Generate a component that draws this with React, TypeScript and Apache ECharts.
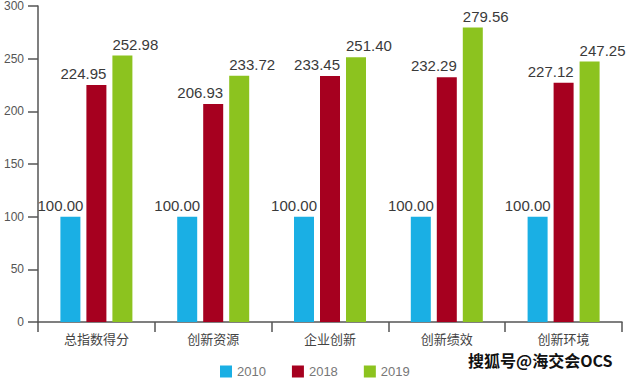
import React, { useEffect, useRef } from "react";
import * as echarts from "echarts";

const categories = ["总指数得分", "创新资源", "企业创新", "创新绩效", "创新环境"];
const s2010 = [100.0, 100.0, 100.0, 100.0, 100.0];
const s2018 = [224.95, 206.93, 233.45, 232.29, 227.12];
const s2019 = [252.98, 233.72, 251.4, 279.56, 247.25];
const seriesNames = ["2010", "2018", "2019"];
const colors = ["#1aafe4", "#a6001f", "#8cc31f"];

export default function App() {
  const ref = useRef<HTMLDivElement>(null);
  useEffect(() => {
    const chart = echarts.init(ref.current!, null, { renderer: "svg" });
    const baseLabel = {
      show: true,
      position: "top",
      distance: 4,
      color: "#3a3a3a",
      fontSize: 15,
      fontFamily: "Liberation Sans, Arial, sans-serif",
      formatter: (p: any) => Number(p.value).toFixed(2),
    };
    const labels = [
      { ...baseLabel, align: "right", offset: [13, 0] },
      { ...baseLabel, align: "right", offset: [10, 0] },
      { ...baseLabel, align: "left", offset: [-10, 0] },
    ];
    const datas = [s2010, s2018, s2019];
    chart.setOption({
      animation: false,
      grid: { left: 38, right: 4, top: 5, bottom: 56, containLabel: false },
      legend: {
        top: 365,
        left: 220,
        padding: 0,
        itemWidth: 12,
        itemHeight: 12,
        itemGap: 26,
        icon: "rect",
        textStyle: { color: "#777", fontSize: 13, fontFamily: "Liberation Sans, Arial, sans-serif" },
        data: seriesNames,
      },
      xAxis: {
        type: "category",
        data: categories,
        axisLine: { lineStyle: { color: "#555", width: 1.5 } },
        axisTick: { show: true, length: 10, lineStyle: { color: "#555", width: 1.5 } },
        axisLabel: { color: "#444", fontSize: 13, margin: 10, fontFamily: "Noto Sans CJK SC, sans-serif" },
      },
      yAxis: {
        type: "value",
        min: 0,
        max: 300,
        interval: 50,
        splitLine: { show: false },
        axisLine: { show: true, lineStyle: { color: "#555", width: 1.5 } },
        axisTick: { show: true, length: 10, lineStyle: { color: "#555", width: 1.5 } },
        axisLabel: { color: "#555", fontSize: 12, margin: 14, fontFamily: "Liberation Sans, Arial, sans-serif" },
      },
      series: seriesNames.map((n, i) => ({
        name: n,
        type: "bar",
        data: datas[i],
        barWidth: 20,
        barGap: "30%",
        itemStyle: { color: colors[i] },
        label: labels[i],
      })),
      graphic: [
        {
          type: "text",
          right: 13,
          top: 351,
          style: {
            text: "搜狐号@海交会OCS",
            fill: "#111",
            stroke: "#fff",
            lineWidth: 1,
            fontSize: 16,
            fontWeight: "bold",
            fontFamily: "Noto Sans CJK SC, sans-serif",
          },
        },
      ],
    });
    return () => chart.dispose();
  }, []);
  return <div ref={ref} style={{ width: 626, height: 378, position: "fixed", left: 0, top: 0, background: "#fff" }} />;
}
